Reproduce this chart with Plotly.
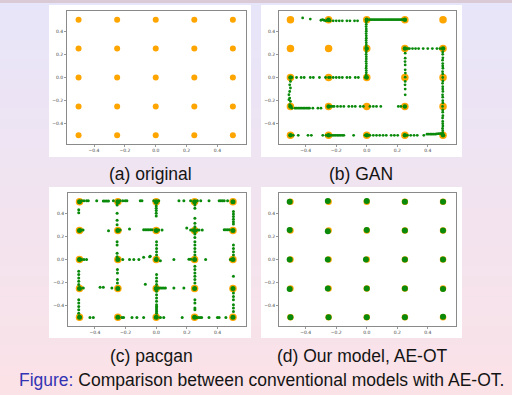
import plotly.graph_objects as go

W, H = 512, 395

# ---------------- data ----------------
tick_vals = [-0.4, -0.2, 0.0, 0.2, 0.4]
tick_text = ["\u22120.4", "\u22120.2", "0.0", "0.2", "0.4"]

# real data (orange) 5x5 grid of gaussians
orig_x = [-0.5, -0.25, 0.0, 0.25, 0.5,
          -0.5, -0.25, 0.0, 0.25, 0.5,
          -0.5, -0.25, 0.0, 0.25, 0.5,
          -0.5, -0.25, 0.0, 0.25, 0.5,
          -0.5, -0.25, 0.0, 0.25, 0.5]
orig_y = [0.5, 0.5, 0.5, 0.5, 0.5,
          0.25, 0.25, 0.25, 0.25, 0.25,
          0.0, 0.0, 0.0, 0.0, 0.0,
          -0.25, -0.25, -0.25, -0.25, -0.25,
          -0.5, -0.5, -0.5, -0.5, -0.5]

# GAN generated samples (green)
gan_x = [-0.42, -0.37,
         -0.30, -0.29, -0.28, -0.27, -0.26, -0.25, -0.24, -0.22, -0.20, -0.18, -0.16, -0.13, -0.11, -0.08, -0.06,
         0.0, 0.02, 0.03, 0.04, 0.05, 0.06, 0.07, 0.08, 0.09, 0.10, 0.11, 0.12, 0.13, 0.14, 0.15, 0.16, 0.17,
         0.18, 0.19, 0.20, 0.21, 0.22, 0.23, 0.24, 0.25,
         -0.003, -0.003, -0.004, -0.003, -0.003, -0.004, -0.003, -0.003, -0.004, -0.003, -0.003, -0.004,
         -0.003, -0.003, -0.004, -0.003, -0.003, -0.004, -0.003, -0.003, -0.004, -0.003, -0.003, -0.004,
         0.26, 0.27, 0.28, 0.30, 0.32, 0.34, 0.37, 0.40, 0.43, 0.46, 0.48, 0.50,
         0.252, 0.252, 0.251, 0.252, 0.252, 0.253, 0.252, 0.252, 0.251, 0.252, 0.252,
         0.498, 0.498, 0.499, 0.497, 0.498, 0.498, 0.499, 0.497, 0.498, 0.498, 0.499, 0.497, 0.498, 0.498,
         0.499, 0.497, 0.498, 0.498, 0.499, 0.497, 0.498, 0.498, 0.499, 0.497, 0.498, 0.498, 0.499, 0.497,
         0.498, 0.498,
         -0.49, -0.46, -0.43, -0.41, -0.37, -0.35, -0.31, -0.27, -0.25, -0.24, -0.22, -0.20, -0.18, -0.16,
         -0.13, -0.11, -0.075, -0.055, -0.01,
         -0.5, -0.505, -0.5, -0.505, -0.51, -0.505, -0.51, -0.5, -0.505,
         -0.49, -0.47, -0.46, -0.449, -0.438, -0.428, -0.417, -0.407, -0.396, -0.385, -0.375, -0.353, -0.32, -0.30,
         -0.246, -0.235, -0.224, -0.214, -0.192, -0.171, -0.15, -0.118, -0.096, -0.075, -0.043, -0.022,
         0.021, 0.043, 0.064, 0.092, 0.207, 0.224,
         -0.492, -0.481, -0.449, -0.385, -0.363, -0.288, -0.267, -0.235, -0.224, -0.214, -0.203, -0.192,
         -0.182, -0.171, -0.16, -0.15, -0.086, -0.011, 0.011, 0.021, 0.043, 0.064, 0.085, 0.107, 0.128,
         0.16, 0.181, 0.203, 0.267, 0.288, 0.31, 0.331, 0.374, 0.395, 0.406, 0.417, 0.427, 0.438, 0.449,
         0.459, 0.47, 0.481, 0.491]
gan_y = [0.515, 0.505,
         0.495, 0.5, 0.495, 0.49, 0.495, 0.49, 0.49, 0.49, 0.49, 0.49, 0.49, 0.49, 0.49, 0.49, 0.49,
         0.5, 0.5, 0.5, 0.5, 0.5, 0.5, 0.5, 0.5, 0.5, 0.5, 0.5, 0.5, 0.5, 0.5, 0.5, 0.5, 0.5,
         0.5, 0.5, 0.5, 0.5, 0.5, 0.5, 0.5, 0.5,
         0.48, 0.46, 0.44, 0.42, 0.40, 0.38, 0.36, 0.34, 0.32, 0.30, 0.28, 0.26,
         0.24, 0.22, 0.20, 0.18, 0.16, 0.14, 0.12, 0.10, 0.08, 0.06, 0.04, 0.02,
         0.25, 0.25, 0.25, 0.25, 0.25, 0.25, 0.25, 0.25, 0.25, 0.25, 0.25, 0.25,
         0.21, 0.167, 0.138, 0.109, 0.066, 0.038, 0.003, -0.034, -0.063, -0.10, -0.15,
         0.22, 0.2, 0.17, 0.15, 0.12, 0.1, 0.08, 0.05, 0.03, 0.0, -0.03, -0.05, -0.08, -0.1,
         -0.12, -0.15, -0.17, -0.2, -0.22, -0.25, -0.28, -0.3, -0.33, -0.35, -0.38, -0.4, -0.42, -0.44,
         -0.46, -0.48,
         0.0, 0.0, 0.0, 0.0, 0.0, 0.0, 0.0, 0.0, 0.0, 0.0, 0.0, 0.0, 0.0, 0.0,
         0.0, 0.0, 0.0, 0.0, 0.0,
         -0.034, -0.063, -0.091, -0.121, -0.149, -0.178, -0.192, -0.207, -0.235,
         -0.265, -0.265, -0.265, -0.265, -0.265, -0.265, -0.265, -0.265, -0.265, -0.265, -0.265, -0.265, -0.265, -0.265,
         -0.25, -0.25, -0.25, -0.25, -0.25, -0.25, -0.25, -0.25, -0.25, -0.25, -0.25, -0.25,
         -0.25, -0.25, -0.25, -0.25, -0.25, -0.25,
         -0.5, -0.5, -0.5, -0.5, -0.5, -0.5, -0.5, -0.5, -0.5, -0.5, -0.5, -0.5,
         -0.5, -0.5, -0.5, -0.5, -0.5, -0.5, -0.5, -0.5, -0.5, -0.5, -0.5, -0.5, -0.5,
         -0.5, -0.5, -0.5, -0.5, -0.5, -0.5, -0.5, -0.5, -0.49, -0.49, -0.49, -0.49, -0.49, -0.49,
         -0.488, -0.486, -0.486, -0.485]
# GAN dense green clumps on some modes
gan_mode_x = [-0.25, 0.0, 0.25, 0.0, 0.0, 0.25, 0.5, -0.5, -0.5, -0.25, 0.25, -0.5, -0.25, 0.0, 0.25, 0.5]
gan_mode_y = [0.5, 0.5, 0.5, 0.25, 0.0, 0.25, 0.25, 0.0, -0.25, -0.25, -0.25, -0.5, -0.5, -0.5, -0.5, -0.5]

# PacGAN generated samples (green)
pac_x = [-0.486, -0.471, -0.454, -0.443, -0.388, -0.345, -0.334, -0.322, -0.311, -0.279, -0.235, -0.218,
         -0.202, -0.191, -0.104, -0.093, -0.016, 0.016, 0.148, 0.18, 0.224, 0.268, 0.29, 0.344, 0.41, 0.421,
         0.432, 0.443, 0.465,
         -0.505, -0.505,
         -0.255, -0.255, -0.255, -0.255,
         0.0, 0.0, 0.0, 0.0, 0.0, 0.0,
         0.252, 0.252, 0.252, 0.252, 0.252,
         0.503, 0.503, 0.503, 0.503, 0.503, 0.503,
         -0.49, -0.477, -0.311, -0.235, -0.174, -0.082, -0.071, -0.06, -0.049, -0.038, -0.027, 0.016, 0.038,
         0.199, 0.224, 0.235, 0.268, 0.279, 0.30, 0.252, 0.252, 0.443, 0.454, 0.465, 0.476,
         -0.255, -0.255, -0.255, -0.255,
         0.002, 0.002, 0.002, 0.002, 0.002, 0.002,
         0.252, 0.252, 0.252, 0.252, 0.252,
         0.503, 0.503, 0.503, 0.503,
         -0.039,
         -0.486, -0.471, -0.454, -0.218, -0.174, -0.146, -0.113, -0.082, -0.043, 0.027, 0.115, 0.213, 0.224,
         0.322, 0.483,
         -0.505, -0.505, -0.505, -0.505, -0.505,
         -0.475, -0.366, -0.345, -0.289,
         -0.253, -0.253, -0.253, -0.253,
         0.002, 0.002, 0.002, 0.002,
         0.016, 0.027, 0.038, 0.049, 0.06, 0.115, 0.18, -0.071,
         0.252, 0.252, 0.252, 0.252, 0.252, 0.252,
         0.503,
         -0.505, -0.505, -0.505, -0.505, -0.505,
         0.002, 0.002, 0.002, 0.002, 0.002, 0.002, 0.002, 0.002, 0.002, 0.002,
         0.252, 0.252, 0.252, 0.252,
         0.503, 0.503, 0.503, 0.503, 0.503, 0.503,
         -0.432, -0.41, -0.224, -0.213, -0.158, -0.126, -0.082, 0.005, 0.027, 0.049, 0.169, 0.263, 0.274,
         0.285, 0.296, 0.344, 0.399, 0.41, 0.454]
pac_y = [0.507, 0.507, 0.507, 0.507, 0.507, 0.505, 0.505, 0.505, 0.505, 0.507, 0.507, 0.507,
         0.507, 0.507, 0.507, 0.507, 0.507, 0.507, 0.507, 0.507, 0.507, 0.507, 0.507, 0.507, 0.507, 0.507,
         0.507, 0.507, 0.507,
         0.43, 0.405,
         0.472, 0.40, 0.34, 0.30,
         0.486, 0.463, 0.443, 0.423, 0.40, 0.376,
         0.472, 0.443, 0.357, 0.313, 0.284,
         0.414, 0.394, 0.371, 0.348, 0.327, 0.307,
         0.255, 0.255, 0.249, 0.255, 0.264, 0.258, 0.258, 0.258, 0.258, 0.258, 0.258, 0.255, 0.255,
         0.273, 0.255, 0.255, 0.255, 0.255, 0.255, 0.22, 0.19, 0.258, 0.258, 0.258, 0.258,
         0.154, 0.125, 0.053, 0.023,
         0.154, 0.125, 0.096, 0.067, 0.038, 0.008,
         0.154, 0.125, 0.096, 0.067, 0.038,
         0.125, 0.096, 0.067, 0.038,
         0.029,
         0.0, 0.0, 0.0, 0.0, 0.0, 0.0, 0.0, 0.02, 0.023, -0.01, 0.0, 0.003, 0.003,
         0.0, 0.0,
         -0.102, -0.13, -0.159, -0.188, -0.217,
         -0.247, -0.24, -0.24, -0.247,
         -0.087, -0.116, -0.174, -0.203,
         -0.13, -0.159, -0.188, -0.217,
         -0.247, -0.247, -0.247, -0.247, -0.247, -0.247, -0.247, -0.215,
         -0.058, -0.087, -0.116, -0.145, -0.174, -0.203,
         -0.145,
         -0.348, -0.377, -0.406, -0.435, -0.464,
         -0.275, -0.304, -0.333, -0.362, -0.391, -0.406, -0.42, -0.435, -0.449, -0.464,
         -0.348, -0.377, -0.42, -0.435,
         -0.29, -0.319, -0.348, -0.391, -0.42, -0.449,
         -0.502, -0.502, -0.502, -0.502, -0.502, -0.502, -0.502, -0.502, -0.502, -0.502, -0.502, -0.502, -0.502,
         -0.502, -0.502, -0.502, -0.502, -0.502, -0.502]

# AE-OT generated samples (green) -- tight clusters on all 25 modes
aeot_x = [-0.505, -0.255, 0.0, 0.25, 0.5,
          -0.505, -0.255, 0.0, 0.25, 0.5,
          -0.505, -0.255, -0.005, 0.25, 0.5,
          -0.505, -0.255, 0.0, 0.25, 0.5,
          -0.5, -0.25, 0.0, 0.25, 0.5]
aeot_y = [0.5, 0.505, 0.505, 0.5, 0.5,
          0.255, 0.245, 0.255, 0.25, 0.25,
          0.0, 0.0, 0.0, 0.0, 0.0,
          -0.255, -0.25, -0.25, -0.25, -0.255,
          -0.5, -0.5, -0.5, -0.5, -0.495]

captions = ["(a) original", "(b) GAN", "(c) pacgan", "(d) Our model, AE-OT"]
figure_caption = "Comparison between conventional models with AE-OT."

# ---------------- layout helpers ----------------
ORANGE = "#ffa500"
GREEN = "#0a8a0a"


def px_x(p):
    return p / W


def px_y(p):
    return 1 - p / H


panels = {
    # frame (plot area) in pixels: x0, x1, ytop, ybottom
    "a": (67, 246, 11, 144),
    "b": (279, 456, 11, 144),
    "c": (68, 246, 193, 326),
    "d": (279, 456, 193, 326),
}
boxes = {
    "a": (49, 251, 5, 157),
    "b": (261, 462, 5, 157),
    "c": (49, 251, 187, 338),
    "d": (261, 462, 187, 338),
}

fig = go.Figure()

shapes = []
# background gradient (slide)
c_top = (231, 229, 249)
c_bot = (251, 226, 231)
n = 40
for i in range(n):
    t = i / (n - 1)
    col = tuple(round(c_top[k] + (c_bot[k] - c_top[k]) * t) for k in range(3))
    y0 = i * H / n
    y1 = (i + 1) * H / n + 0.5
    shapes.append(dict(type="rect", xref="paper", yref="paper", layer="below",
                       x0=0, x1=1, y0=px_y(min(y1, H)), y1=px_y(y0),
                       fillcolor="rgb(%d,%d,%d)" % col, line=dict(width=0)))
shapes.append(dict(type="rect", xref="paper", yref="paper", layer="below",
                   x0=0, x1=1, y0=px_y(3), y1=1,
                   fillcolor="#d9cad5", line=dict(width=0)))
for k, (x0, x1, yt, yb) in boxes.items():
    shapes.append(dict(type="rect", xref="paper", yref="paper", layer="below",
                       x0=px_x(x0), x1=px_x(x1), y0=px_y(yb), y1=px_y(yt),
                       fillcolor="white", line=dict(width=0)))

axis_common = dict(range=[-0.575, 0.585], showgrid=False, zeroline=False, showline=True,
                   mirror=True, linecolor="#8a8a8a", linewidth=1, ticks="outside",
                   ticklen=2, tickwidth=0.6, tickcolor="#555",
                   tickvals=tick_vals, ticktext=tick_text,
                   tickfont=dict(size=4.5, color="#444", family="DejaVu Sans"))
yaxis_common = dict(axis_common)
yaxis_common["range"] = [-0.575, 0.575]

layout_axes = {}
for idx, key in enumerate(["a", "b", "c", "d"]):
    x0, x1, yt, yb = panels[key]
    sfx = "" if idx == 0 else str(idx + 1)
    xa = dict(axis_common, domain=[px_x(x0), px_x(x1)], anchor="y" + sfx)
    ya = dict(yaxis_common, domain=[px_y(yb), px_y(yt)], anchor="x" + sfx)
    layout_axes["xaxis" + sfx] = xa
    layout_axes["yaxis" + sfx] = ya


def add(xs, ys, ax, color, size):
    sfx = "" if ax == 1 else str(ax)
    fig.add_trace(go.Scatter(x=xs, y=ys, mode="markers", xaxis="x" + sfx, yaxis="y" + sfx,
                             marker=dict(color=color, size=size, line=dict(width=0)),
                             showlegend=False, hoverinfo="skip"))


# (a) original
add(orig_x, orig_y, 1, ORANGE, 6)
# (b) GAN
add(orig_x, orig_y, 2, ORANGE, 7.5)
add(gan_mode_x, gan_mode_y, 2, GREEN, 4.5)
add(gan_x, gan_y, 2, GREEN, 2.8)
# (c) pacgan
add(orig_x, orig_y, 3, ORANGE, 7.5)
add(orig_x, orig_y, 3, GREEN, 5)
add(pac_x, pac_y, 3, GREEN, 3)
# (d) AE-OT
add(orig_x, orig_y, 4, ORANGE, 6.5)
add(aeot_x, aeot_y, 4, GREEN, 6)

cap_font = dict(family="Liberation Sans, Arial, sans-serif", size=17.5, color="#141414")
annotations = [
    dict(text=captions[0], x=px_x(150), y=px_y(174)),
    dict(text=captions[1], x=px_x(361), y=px_y(174)),
    dict(text=captions[2], x=px_x(151), y=px_y(356)),
    dict(text=captions[3], x=px_x(362), y=px_y(356)),
]
for a in annotations:
    a.update(xref="paper", yref="paper", showarrow=False, xanchor="center",
             yanchor="middle", font=cap_font)
annotations.append(dict(text='<span style="color:#3333b3">Figure:</span> ' + figure_caption,
                        x=px_x(17), y=px_y(380), xref="paper", yref="paper", showarrow=False,
                        xanchor="left", yanchor="middle", font=cap_font))

fig.update_layout(width=W, height=H, margin=dict(l=0, r=0, t=0, b=0),
                  paper_bgcolor="#efe4f1", plot_bgcolor="white",
                  shapes=shapes, annotations=annotations, **layout_axes)

fig.write_html("out.html", config={"displayModeBar": False, "staticPlot": True},
               post_script="document.body.style.margin='0';document.body.style.overflow='hidden';")
